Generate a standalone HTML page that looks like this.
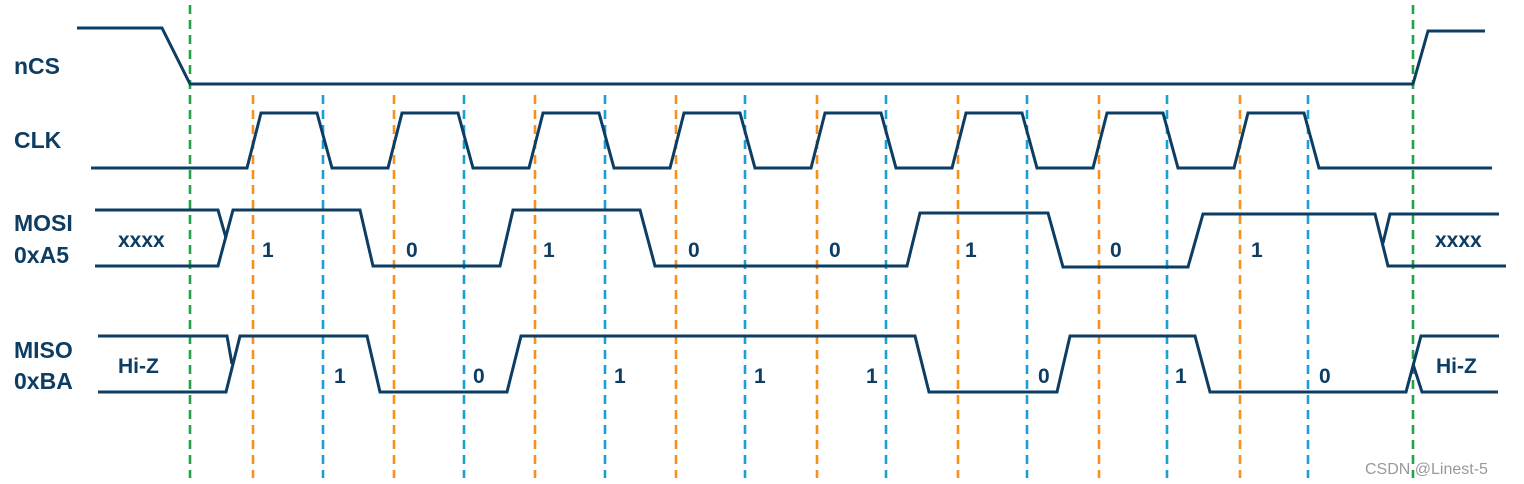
<!DOCTYPE html>
<html><head><style>body{margin:0;background:#fff}svg{display:block}</style></head>
<body>
<svg width="1524" height="484" xmlns="http://www.w3.org/2000/svg">
<g stroke-width="2.6" stroke-dasharray="9,6" fill="none">
<g stroke="#23a348"><line x1="190" y1="5" x2="190" y2="478"/><line x1="1413" y1="5" x2="1413" y2="478"/></g>
<g stroke="#f7901e">
<line x1="253" y1="95" x2="253" y2="478"/><line x1="394" y1="95" x2="394" y2="478"/><line x1="535" y1="95" x2="535" y2="478"/><line x1="676" y1="95" x2="676" y2="478"/><line x1="817" y1="95" x2="817" y2="478"/><line x1="958" y1="95" x2="958" y2="478"/><line x1="1099" y1="95" x2="1099" y2="478"/><line x1="1240" y1="95" x2="1240" y2="478"/></g>
<g stroke="#1aa0d2">
<line x1="323" y1="95" x2="323" y2="478"/><line x1="464" y1="95" x2="464" y2="478"/><line x1="605" y1="95" x2="605" y2="478"/><line x1="745" y1="95" x2="745" y2="478"/><line x1="886" y1="95" x2="886" y2="478"/><line x1="1027" y1="95" x2="1027" y2="478"/><line x1="1167" y1="95" x2="1167" y2="478"/><line x1="1308" y1="95" x2="1308" y2="478"/></g>
</g>
<g stroke="#0d3d63" stroke-width="3" fill="none" stroke-linejoin="miter">
<polyline points="77,28 162,28 190,84 1413,84 1428,31 1485,31"/>
<polyline points="91,168 247,168 261,113 317,113 332,168 388,168 402,113 458,113 473,168 529,168 543,113 599,113 614,168 670,168 684,113 740,113 755,168 811,168 825,113 881,113 896,168 952,168 966,113 1022,113 1037,168 1093,168 1107,113 1163,113 1178,168 1234,168 1248,113 1304,113 1319,168 1492,168"/>
<polyline points="95,210 218,210 226,238"/>
<polyline points="95,266 218,266 233,210 360,210 373,266 500,266 513,210 640,210 655,266 907,266 920,213 1048,213 1063,267 1188,267 1203,214 1375,214 1388,266 1506,266"/>
<polyline points="1383,243 1390,214 1499,214"/>
<polyline points="98,336 227,336 232,364"/>
<polyline points="98,392 226,392 240,336 367,336 380,392 507,392 521,336 915,336 929,392 1057,392 1070,336 1195,336 1210,392 1406,392 1421,336 1499,336"/>
<polyline points="1413,364 1422,392 1498,392"/>
</g>
<g font-family="Liberation Sans, sans-serif" font-weight="bold" fill="#0d3d63" font-size="23">
<text x="14" y="74">nCS</text>
<text x="14" y="148">CLK</text>
<text x="14" y="231">MOSI</text>
<text x="14" y="263">0xA5</text>
<text x="14" y="358">MISO</text>
<text x="14" y="389">0xBA</text>
<g font-size="21">
<text x="118" y="247">xxxx</text>
<text x="1435" y="247">xxxx</text>
<text x="118" y="373">Hi-Z</text>
<text x="1436" y="373">Hi-Z</text>
<text x="262" y="257">1</text><text x="406" y="257">0</text><text x="543" y="257">1</text><text x="688" y="257">0</text><text x="829" y="257">0</text><text x="965" y="257">1</text><text x="1110" y="257">0</text><text x="1251" y="257">1</text>
<text x="334" y="383">1</text><text x="473" y="383">0</text><text x="614" y="383">1</text><text x="754" y="383">1</text><text x="866" y="383">1</text><text x="1038" y="383">0</text><text x="1175" y="383">1</text><text x="1319" y="383">0</text>
</g></g>
<text x="1365" y="474" font-family="Liberation Sans, sans-serif" font-size="16" fill="#999">CSDN @Linest-5</text>
</svg>
</body></html>
